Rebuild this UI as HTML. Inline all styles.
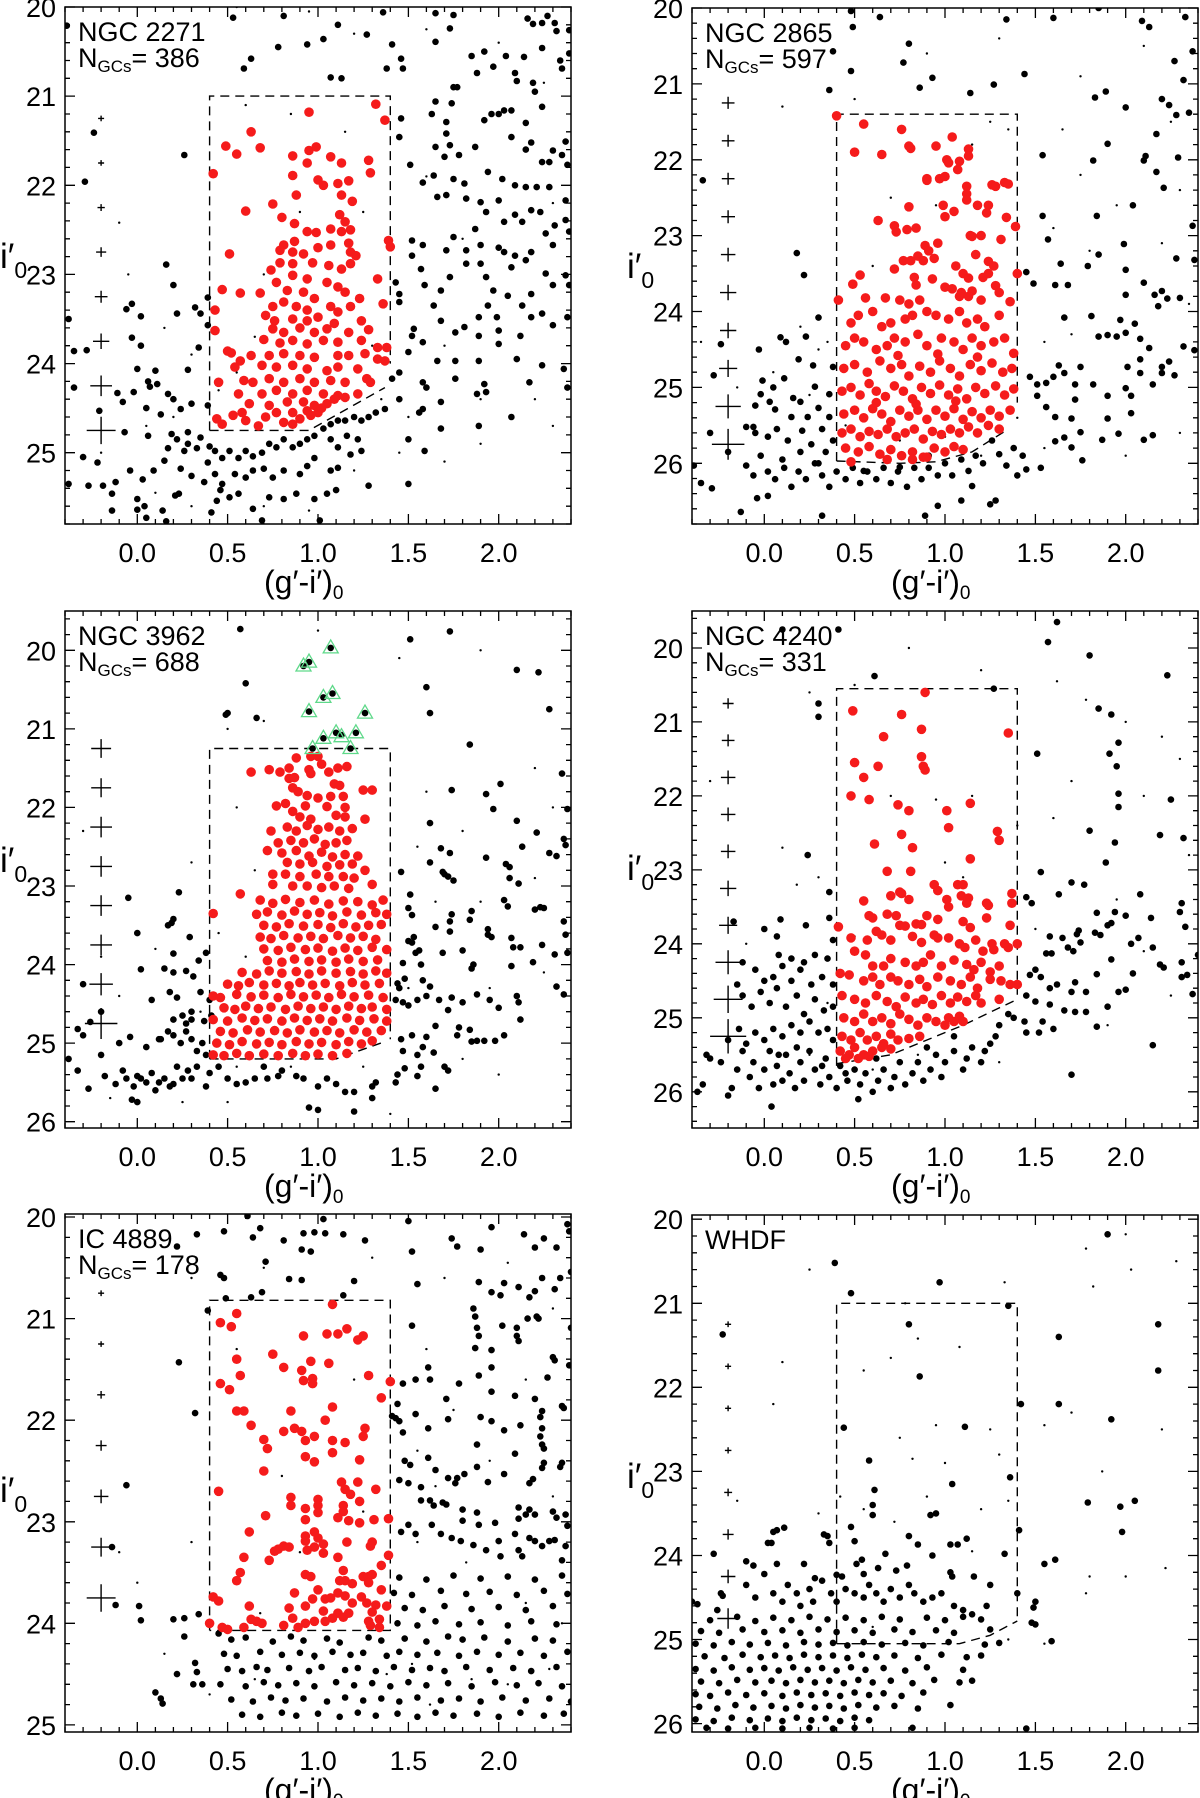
<!DOCTYPE html>
<html><head><meta charset="utf-8"><title>GC colour-magnitude diagrams</title>
<style>
html,body{margin:0;padding:0;background:#fff;}
svg{display:block;}
text{font-family:"Liberation Sans",Arial,sans-serif;fill:#000;}
</style></head>
<body>
<svg id="fig" xmlns="http://www.w3.org/2000/svg" width="1200" height="1798" viewBox="0 0 1200 1798"></svg>
<script>
// ---------- data (colour (g'-i')0, magnitude i'0 pairs) ----------
const xTicks = [0.0, 0.5, 1.0, 1.5, 2.0];
const xTickLabels = ["0.0", "0.5", "1.0", "1.5", "2.0"];

const names = ["NGC 2271", "NGC 2865", "NGC 3962", "NGC 4240", "IC 4889", "WHDF"];
const nGCs = ["386", "597", "688", "331", "178", ""];
const yTicks1 = [20, 21, 22, 23, 24, 25];
const yTicks2 = [20, 21, 22, 23, 24, 25, 26];
const yTicks3 = [20, 21, 22, 23, 24, 25, 26];
const yTicks4 = [20, 21, 22, 23, 24, 25, 26];
const yTicks5 = [20, 21, 22, 23, 24, 25];
const yTicks6 = [20, 21, 22, 23, 24, 25, 26];

const red1 = [1.32,21.09,1.37,21.27,0.95,21.18,0.63,21.4,0.49,21.56,0.55,21.65,0.68,21.58,0.42,21.87,0.86,21.67,0.95,21.61,0.99,21.57,0.94,21.75,1.07,21.68,1.13,21.75,1.28,21.72,1.29,21.86,0.86,21.89,0.88,22.11,1.0,21.94,1.03,22.0,1.11,21.98,1.17,21.95,1.13,22.11,1.19,22.18,0.6,22.29,0.75,22.21,0.8,22.36,0.87,22.43,0.94,22.52,0.99,22.53,1.07,22.49,1.12,22.33,1.15,22.41,1.18,22.5,1.13,22.52,1.39,22.62,1.4,22.69,0.81,22.67,0.87,22.63,0.79,22.73,0.86,22.75,0.92,22.77,1.0,22.7,1.07,22.67,1.17,22.65,1.18,22.75,1.21,22.79,0.51,22.77,0.79,22.87,0.86,22.88,0.97,22.87,1.06,22.9,1.13,22.94,1.18,22.88,0.74,22.95,0.86,23.01,0.94,23.05,0.77,23.09,1.05,23.09,1.11,23.14,1.33,23.05,0.47,23.17,0.57,23.21,0.68,23.21,0.83,23.18,0.92,23.2,0.98,23.27,1.15,23.2,1.23,23.27,0.75,23.36,0.81,23.31,0.88,23.36,0.94,23.4,1.07,23.36,1.11,23.42,1.18,23.36,1.36,23.33,0.43,23.4,0.71,23.46,0.76,23.52,0.86,23.5,0.94,23.52,1.0,23.48,1.09,23.55,1.24,23.52,0.43,23.63,0.75,23.61,0.81,23.65,0.9,23.6,0.98,23.65,1.05,23.61,1.17,23.65,1.28,23.62,0.7,23.73,0.79,23.77,0.86,23.74,0.94,23.78,1.03,23.74,1.11,23.76,1.24,23.74,1.33,23.82,1.38,23.82,0.5,23.86,0.52,23.88,0.63,23.91,0.73,23.91,0.81,23.89,0.9,23.91,0.98,23.93,1.11,23.91,1.17,23.91,1.26,23.89,1.33,23.95,1.37,23.97,0.57,23.97,0.54,24.04,0.69,24.02,0.77,24.04,0.86,24.02,0.94,24.06,1.05,24.08,1.11,24.04,1.22,24.06,0.45,24.21,0.59,24.19,0.64,24.21,0.73,24.17,0.81,24.21,0.9,24.17,0.98,24.21,1.07,24.19,1.15,24.21,1.27,24.17,1.29,24.21,0.56,24.34,0.69,24.34,0.77,24.3,0.86,24.34,0.94,24.3,1.03,24.34,1.11,24.36,1.22,24.34,0.62,24.45,0.73,24.47,0.83,24.43,0.92,24.43,0.98,24.47,1.05,24.45,1.09,24.4,1.15,24.38,0.53,24.58,0.58,24.55,0.44,24.62,0.47,24.68,0.6,24.64,0.71,24.6,0.77,24.55,0.86,24.55,0.94,24.53,1.0,24.55,0.81,24.66,0.67,24.7,0.86,24.68,0.9,24.62,1.02,24.5,0.96,24.58];
const black1 = [-0.39,20.21,0.53,20.12,0.81,20.1,0.78,20.45,0.59,20.69,0.63,20.58,0.94,20.42,1.03,20.36,1.11,20.2,1.07,20.79,1.13,20.8,1.27,20.31,1.36,20.06,1.38,20.69,1.41,20.42,1.46,20.58,1.47,20.69,1.65,20.07,1.65,20.39,1.73,20.24,1.75,20.09,1.85,20.55,1.88,20.74,1.92,20.5,1.97,20.67,2.04,20.55,2.09,20.74,2.14,20.56,2.16,20.13,2.19,20.19,2.24,20.18,2.27,20.1,2.31,20.18,2.32,20.27,2.39,20.26,2.24,20.46,2.34,20.6,2.39,20.52,2.35,20.69,2.1,20.83,2.19,20.85,2.2,20.95,1.75,20.9,1.77,20.9,-0.24,21.41,0.26,21.66,-0.29,21.96,1.46,21.25,1.45,21.46,1.51,21.77,1.58,21.97,1.64,21.89,1.65,21.06,1.63,21.2,1.71,21.29,1.74,21.08,1.71,21.42,1.73,21.55,1.65,21.57,1.7,21.68,1.78,21.66,1.75,21.93,1.71,22.11,1.66,22.13,1.81,21.98,1.87,21.57,1.92,21.27,1.96,21.2,2.0,21.2,2.03,21.16,2.07,21.16,2.07,21.46,2.15,21.3,2.18,21.52,2.15,21.6,2.24,21.12,2.3,21.61,2.35,21.66,2.37,21.51,2.38,21.77,2.28,21.74,2.24,21.74,1.94,21.85,2.02,21.93,2.09,22.0,2.15,22.02,2.21,22.02,2.28,22.02,2.37,22.17,1.82,22.15,1.9,22.19,1.93,22.3,2.0,22.17,2.03,22.41,2.09,22.33,2.13,22.41,2.18,22.28,2.23,22.3,2.26,22.54,2.31,22.45,2.37,22.39,2.39,22.52,1.87,22.49,1.9,22.67,1.82,22.73,1.75,22.58,1.71,22.73,1.58,22.67,1.52,22.62,1.52,22.79,1.57,22.94,1.59,23.12,1.68,23.18,1.73,23.03,1.82,22.88,1.9,22.88,1.93,23.03,2.0,22.7,2.03,22.75,2.07,22.92,2.09,22.79,2.15,22.84,2.18,22.75,2.26,22.99,2.3,22.67,2.37,23.01,2.39,23.12,2.3,23.12,2.18,23.22,2.13,23.35,2.05,23.24,1.97,23.18,1.94,23.35,1.99,23.48,2.0,23.63,1.89,23.48,1.81,23.59,1.89,23.69,1.76,23.65,1.68,23.52,1.64,23.35,1.53,23.61,1.52,23.69,1.5,23.87,1.43,23.09,1.45,23.22,1.45,23.31,1.58,23.76,1.66,23.97,1.76,23.97,1.89,23.97,2.0,23.78,2.1,23.95,2.12,23.69,2.18,23.48,2.24,23.44,2.3,23.57,2.38,23.48,2.36,24.06,2.38,24.27,2.24,24.02,2.17,24.21,2.07,24.6,1.92,24.23,1.93,24.32,1.88,24.34,1.89,24.7,1.76,24.17,1.68,24.43,1.68,24.73,1.58,24.21,1.6,24.27,1.58,24.51,1.56,24.55,1.45,24.4,1.45,24.1,1.41,24.17,1.5,24.85,1.59,24.98,1.5,25.35,-0.06,23.39,-0.03,23.33,0.02,23.47,-0.03,23.71,0.02,23.8,0.2,23.12,0.22,23.44,0.16,22.89,0.28,24.07,0.32,23.37,0.34,23.82,0.35,23.44,0.39,23.57,0.39,23.26,-0.28,23.85,-0.35,23.86,-0.38,23.5,-0.35,24.27,0.0,24.06,0.06,24.2,0.1,24.08,0.07,24.26,0.11,24.23,0.17,24.34,0.2,24.4,-0.11,24.33,-0.02,24.32,-0.08,24.43,-0.21,24.53,0.05,24.5,0.13,24.57,0.24,24.51,0.3,24.45,0.39,24.47,-0.07,24.77,0.06,24.81,0.19,24.79,0.28,24.77,0.35,24.83,0.22,24.85,0.28,24.9,0.17,24.95,0.26,24.98,0.33,24.95,0.4,24.93,0.43,24.98,0.39,25.11,0.47,25.06,0.51,24.98,0.56,25.06,0.6,24.98,0.64,25.04,0.69,25.0,0.73,24.9,0.77,24.94,0.81,24.85,0.86,24.94,0.9,24.9,0.94,24.85,0.98,24.81,1.03,24.73,1.07,24.68,1.11,24.64,1.15,24.64,1.2,24.6,1.24,24.64,1.28,24.6,1.32,24.55,1.37,24.51,1.07,24.85,1.11,24.94,1.16,24.81,1.22,24.85,1.24,24.98,1.18,25.02,1.11,25.17,1.07,25.2,0.98,25.06,0.94,25.15,0.9,25.24,0.81,25.2,0.75,25.28,0.7,25.18,0.64,25.2,0.6,25.28,0.54,25.24,0.47,25.35,0.43,25.24,0.37,25.33,0.3,25.26,0.24,25.18,0.15,25.09,0.09,25.2,0.03,25.3,-0.04,25.2,-0.12,25.33,-0.14,25.46,-0.22,25.11,-0.27,25.37,-0.3,25.05,-0.38,25.35,-0.19,25.37,0.0,25.52,0.04,25.6,0.0,25.64,-0.14,25.65,0.14,25.65,0.21,25.48,0.23,25.46,0.41,25.67,0.44,25.54,0.46,25.42,0.51,25.5,0.56,25.46,0.64,25.63,0.69,25.76,0.73,25.5,0.81,25.52,0.88,25.46,0.98,25.52,1.01,25.76,1.05,25.46,1.1,25.42,1.28,25.37,0.05,25.73,0.16,25.77];
const small1 = [0.55,20.0,0.95,20.05,1.2,20.3,1.6,20.25,2.0,20.4,2.25,20.85,-0.1,22.42,-0.05,23.0,0.15,23.6,0.3,23.9,0.6,21.1,0.85,21.2,1.15,21.4,1.6,21.9,1.8,22.6,2.3,22.2,1.7,23.8,1.9,24.4,2.2,24.4,2.3,24.7,0.05,24.7,0.2,24.6,0.45,24.3,0.55,24.1,0.65,23.7,0.7,23.0,0.9,22.3,1.25,22.3,1.3,23.8,1.35,24.4,1.5,24.6,1.7,25.1,1.9,24.9,0.3,25.6,0.7,25.6,0.95,25.65,1.2,25.2,1.45,25.0,-0.2,25.0,0.1,25.45];
const err1 = [21.25,21.75,22.25,22.75,23.25,23.75,24.25,24.75];
const errSize1 = [0.012,0.015,0.02,0.028,0.035,0.045,0.06,0.08];

const red2 = [0.4,21.42,0.55,21.53,0.5,21.9,0.65,21.93,0.76,21.6,0.8,21.82,0.81,21.85,0.95,21.82,1.04,21.7,1.13,21.86,1.01,22.0,1.02,22.04,1.08,22.02,1.13,21.95,1.07,22.13,0.9,22.25,0.9,22.27,0.97,22.25,1.0,22.22,1.12,22.35,1.12,22.45,1.26,22.33,1.28,22.35,1.33,22.3,1.35,22.32,1.12,22.53,1.18,22.6,1.24,22.6,0.99,22.6,1.0,22.75,0.8,22.62,1.05,22.68,1.23,22.7,0.63,22.8,0.72,22.87,0.73,22.95,0.79,22.92,0.84,22.9,1.14,23.0,1.15,23.01,1.2,23.0,1.31,23.05,1.34,22.76,1.39,22.88,0.96,23.1,0.89,23.13,0.91,23.2,0.85,23.27,0.94,23.3,1.17,23.25,0.77,23.33,0.81,23.33,0.88,23.33,1.06,23.4,1.24,23.34,1.27,23.4,0.72,23.44,0.53,23.52,0.49,23.64,0.83,23.55,0.93,23.57,1.1,23.5,1.13,23.56,1.21,23.55,1.24,23.5,1.4,23.5,0.84,23.65,1.0,23.68,1.04,23.7,1.09,23.75,1.15,23.73,1.28,23.66,1.3,23.75,0.41,23.85,0.56,23.82,0.67,23.82,0.75,23.85,0.8,23.9,0.86,23.85,1.08,23.8,1.13,23.8,1.2,23.85,1.36,23.87,0.48,24.15,0.52,24.05,0.6,24.0,0.65,24.2,0.7,24.15,0.78,24.1,0.82,24.05,0.9,24.0,0.95,24.05,1.02,24.1,1.08,24.0,1.12,24.15,1.18,24.1,1.22,24.2,1.3,24.05,0.45,24.45,0.5,24.35,0.55,24.4,0.62,24.5,0.68,24.45,0.72,24.35,0.78,24.4,0.85,24.3,0.9,24.45,0.98,24.35,1.05,24.4,1.1,24.5,1.15,24.35,1.2,24.45,1.27,24.4,1.33,24.35,1.38,24.55,0.44,24.75,0.5,24.7,0.57,24.8,0.64,24.65,0.7,24.75,0.76,24.7,0.8,24.85,0.86,24.72,0.92,24.8,0.97,24.65,1.03,24.75,1.08,24.85,1.14,24.7,1.2,24.78,1.26,24.68,1.32,24.8,1.37,24.75,0.43,25.05,0.48,25.0,0.53,25.1,0.58,24.95,0.62,25.05,0.67,25.12,0.72,24.98,0.77,25.05,0.82,25.15,0.87,25.0,0.92,25.08,0.97,24.97,1.02,25.1,1.07,25.02,1.12,25.15,1.17,25.0,1.22,25.08,1.28,24.98,1.33,25.1,1.38,25.02,0.44,25.35,0.5,25.3,0.55,25.4,0.6,25.28,0.65,25.35,0.7,25.45,0.75,25.3,0.8,25.38,0.85,25.3,0.9,25.42,0.95,25.3,1.0,25.38,1.05,25.28,1.1,25.42,1.15,25.32,1.2,25.4,1.25,25.3,1.3,25.38,1.36,25.3,0.43,25.6,0.48,25.55,0.53,25.65,0.58,25.58,0.63,25.62,0.68,25.55,0.73,25.65,0.78,25.6,0.83,25.55,0.88,25.68,0.93,25.58,0.98,25.62,1.03,25.55,1.08,25.6,1.13,25.52,1.18,25.6,1.24,25.5,1.3,25.55,0.45,25.8,0.52,25.85,0.58,25.78,0.64,25.88,0.7,25.82,0.76,25.9,0.82,25.85,0.88,25.92,0.94,25.8,1.0,25.85,1.05,25.78,1.1,25.82,0.48,25.98,0.68,25.95,0.82,25.95,0.9,25.92,0.62,25.2,0.84,25.22,1.06,25.18,0.74,24.58,0.96,24.56,1.18,24.6];
const black2 = [0.48,20.04,0.49,20.25,0.64,20.12,0.8,20.47,0.77,20.72,0.48,20.83,0.38,20.57,0.36,21.08,0.86,21.05,0.93,20.92,1.14,21.12,1.27,21.01,1.34,20.15,1.44,20.87,1.6,20.13,1.85,20.0,2.09,20.17,2.13,20.25,2.33,20.12,2.37,20.57,2.27,20.7,2.32,20.95,2.35,21.38,2.28,21.41,2.24,21.28,2.2,21.2,2.0,21.31,1.89,21.1,1.83,21.18,1.9,21.79,2.17,21.66,2.1,22.01,2.17,22.16,2.21,22.37,2.11,21.95,2.29,21.97,1.82,22.01,1.54,21.94,2.04,22.6,1.54,22.74,1.57,23.05,1.84,22.74,1.85,23.25,1.99,23.11,1.79,23.4,2.0,23.45,2.0,23.78,2.1,23.62,2.16,23.78,2.2,23.73,2.28,23.3,2.38,23.32,2.23,23.83,2.3,23.82,2.18,23.93,2.37,22.87,1.45,23.48,1.49,23.63,1.61,23.65,1.68,23.65,1.64,23.37,1.66,24.08,1.81,24.06,1.97,24.11,2.05,24.16,2.0,24.28,1.85,24.33,1.9,24.31,1.95,24.33,2.08,24.36,2.13,24.48,2.01,24.73,2.08,24.63,2.2,24.73,2.24,24.66,2.32,24.46,2.38,24.51,2.27,24.84,2.2,24.81,2.15,24.96,2.08,24.81,2.0,25.01,2.03,25.11,1.9,25.11,1.82,24.96,1.72,24.96,1.72,25.16,1.75,24.73,1.66,24.81,1.63,24.71,1.6,24.86,1.56,24.94,1.51,24.96,1.47,24.86,1.51,25.11,1.56,25.26,1.61,25.39,1.7,25.41,1.75,25.59,1.66,25.66,1.61,25.71,1.7,25.79,1.76,25.96,1.9,25.41,1.96,25.61,1.87,25.69,2.15,25.63,2.1,25.69,2.03,25.34,1.53,26.06,1.45,26.08,1.4,26.16,1.43,25.9,1.38,25.8,1.34,26.03,1.3,25.88,1.26,25.7,1.21,26.0,1.17,25.9,1.13,26.1,1.09,25.95,1.04,26.16,1.0,26.0,0.96,26.16,0.91,26.06,0.87,26.21,0.83,26.06,0.79,26.31,0.74,26.11,0.7,26.26,0.66,26.06,0.62,26.21,0.57,26.11,0.53,26.26,0.49,26.06,0.45,26.21,0.4,26.11,0.36,26.31,0.32,26.16,0.28,26.0,0.23,26.21,0.19,26.11,0.15,26.31,0.11,26.06,0.06,26.21,0.02,26.11,-0.02,25.9,-0.06,26.16,-0.1,26.03,-0.04,26.46,0.02,26.43,0.32,26.69,0.89,26.69,0.96,26.56,1.09,26.49,1.25,26.54,1.28,26.49,-0.35,26.26,-0.29,26.33,-0.13,26.64,-0.39,26.03,-0.28,24.84,-0.24,24.43,-0.34,22.27,0.18,23.23,0.22,23.52,0.3,24.08,0.23,24.33,0.09,24.34,-0.03,24.5,-0.01,24.91,-0.02,25.09,-0.05,25.24,-0.1,25.52,-0.06,25.52,-0.05,25.6,0.02,25.65,0.06,25.29,0.07,25.55,0.13,25.7,0.15,25.39,0.16,25.14,0.2,25.19,0.21,25.57,0.24,25.39,0.26,25.75,0.28,24.99,0.3,25.27,0.32,25.55,0.34,25.85,0.36,25.39,0.36,25.09,0.38,25.7,0.38,24.73,0.27,24.71,0.19,24.63,0.11,24.88,0.03,25.19,0.91,25.9,0.1,25.95,0.2,25.85,0.3,26.0,0.55,26.1,0.75,26.05,1.15,26.3,-0.2,25.85,-0.3,25.6,0.05,25.0,0.12,24.4];
const small2 = [0.1,21.3,0.5,21.2,0.9,20.6,1.3,20.4,1.75,20.9,2.1,20.5,2.25,21.5,1.65,21.6,1.75,22.2,1.95,22.6,2.3,22.4,1.6,22.9,1.8,23.2,2.2,23.1,2.35,23.9,1.55,24.4,1.7,24.3,0.2,24.2,0.3,24.5,0.05,24.8,-0.15,25.0,0.25,25.1,0.35,24.4,0.6,23.4,0.7,22.5,0.95,22.6,1.15,21.8,1.25,21.5,1.35,21.6,0.45,25.5,0.75,25.7,1.0,25.65,1.2,25.9,1.4,25.4,1.55,25.8,2.0,25.9,2.3,25.6,-0.35,24.4];
const err2 = [21.25,21.75,22.25,22.75,23.25,23.75,24.25,24.75,25.25,25.75];
const errSize2 = [0.035,0.035,0.035,0.038,0.04,0.045,0.045,0.05,0.07,0.09];

const red3 = [0.88,21.37,0.96,21.35,1.0,21.35,1.02,21.45,1.11,21.5,1.16,21.48,0.95,21.52,0.84,21.5,0.79,21.55,0.73,21.52,0.63,21.55,0.84,21.63,0.87,21.62,0.96,21.57,1.06,21.55,1.09,21.7,1.12,21.72,1.25,21.78,1.3,21.78,0.86,21.75,0.89,21.8,0.94,21.85,1.0,21.88,1.07,21.86,1.14,21.86,0.82,21.95,0.77,21.98,0.93,21.98,1.05,21.99,1.15,22.0,0.86,22.05,0.9,22.12,0.96,22.15,1.1,22.1,1.15,22.12,1.26,22.15,0.83,22.25,0.88,22.3,0.94,22.23,1.0,22.28,1.06,22.25,1.12,22.3,1.19,22.27,0.74,22.3,0.78,22.45,0.85,22.42,0.92,22.45,0.98,22.4,1.04,22.47,1.1,22.45,1.16,22.42,0.72,22.55,0.8,22.58,0.88,22.55,0.95,22.62,1.02,22.57,1.08,22.63,1.15,22.6,1.22,22.62,1.26,22.8,0.83,22.7,0.9,22.72,0.97,22.7,1.05,22.75,1.12,22.73,1.19,22.72,0.75,22.85,0.82,22.85,0.9,22.88,0.99,22.85,1.06,22.88,1.14,22.88,1.2,22.9,1.3,22.98,0.75,22.98,0.86,23.0,0.94,23.0,1.02,23.02,1.09,23.0,1.17,23.03,0.57,23.1,0.68,23.18,0.75,23.22,0.82,23.17,0.9,23.21,0.98,23.18,1.06,23.23,1.14,23.19,1.22,23.2,1.3,23.24,1.36,23.18,0.42,23.35,0.66,23.36,0.72,23.33,0.8,23.37,0.87,23.32,0.94,23.36,1.01,23.34,1.08,23.38,1.16,23.33,1.24,23.37,1.32,23.34,1.38,23.36,0.7,23.5,0.77,23.52,0.84,23.48,0.92,23.51,1.0,23.49,1.07,23.53,1.14,23.48,1.21,23.52,1.28,23.5,1.35,23.49,0.68,23.65,0.74,23.67,0.81,23.63,0.89,23.66,0.96,23.64,1.03,23.67,1.11,23.63,1.18,23.66,1.25,23.64,1.32,23.68,0.7,23.8,0.78,23.82,0.85,23.78,0.93,23.81,1.0,23.79,1.08,23.83,1.15,23.79,1.22,23.82,1.3,23.78,1.38,23.81,0.72,23.95,0.8,23.97,0.87,23.93,0.95,23.96,1.02,23.94,1.1,23.97,1.17,23.93,1.25,23.96,1.33,23.94,0.58,24.1,0.66,24.12,0.73,24.08,0.8,24.11,0.88,24.09,0.95,24.12,1.02,24.08,1.1,24.11,1.18,24.09,1.25,24.12,1.32,24.08,1.38,24.11,0.5,24.25,0.56,24.27,0.62,24.23,0.7,24.26,0.77,24.24,0.84,24.27,0.9,24.23,0.97,24.26,1.04,24.24,1.12,24.27,1.19,24.23,1.26,24.26,1.34,24.24,0.42,24.4,0.46,24.42,0.55,24.38,0.63,24.41,0.7,24.39,0.78,24.42,0.85,24.38,0.92,24.41,0.99,24.39,1.06,24.42,1.13,24.38,1.2,24.41,1.28,24.39,1.36,24.42,0.48,24.55,0.54,24.57,0.6,24.53,0.67,24.56,0.74,24.54,0.82,24.57,0.89,24.53,0.96,24.56,1.03,24.54,1.1,24.57,1.17,24.53,1.24,24.56,1.3,24.54,1.38,24.57,0.42,24.7,0.5,24.72,0.58,24.68,0.65,24.71,0.72,24.69,0.8,24.72,0.87,24.68,0.94,24.71,1.01,24.69,1.08,24.72,1.16,24.68,1.23,24.71,1.31,24.69,1.38,24.72,0.46,24.85,0.53,24.87,0.61,24.83,0.68,24.86,0.76,24.84,0.83,24.87,0.9,24.83,0.98,24.86,1.05,24.84,1.12,24.87,1.2,24.83,1.27,24.86,1.35,24.84,0.44,25.0,0.51,25.02,0.58,24.98,0.66,25.01,0.73,24.99,0.8,25.02,0.88,24.98,0.95,25.01,1.02,24.99,1.1,25.02,1.17,24.98,1.24,25.01,1.3,24.97,0.42,25.15,0.48,25.16,0.55,25.13,0.62,25.16,0.7,25.14,0.78,25.16,0.86,25.13,0.93,25.16,1.0,25.14,1.08,25.16,1.16,25.13];
const black3 = [0.57,19.73,0.6,20.42,0.5,20.8,0.49,20.82,0.66,20.86,0.92,20.2,0.95,20.15,1.07,19.97,1.03,20.6,1.08,20.55,0.95,20.78,1.26,20.8,1.03,21.12,1.1,21.05,1.21,21.05,0.97,21.25,1.18,21.25,1.13,21.08,1.51,19.86,1.73,19.76,1.6,20.47,1.62,20.8,2.1,20.25,2.22,20.28,2.28,20.75,1.84,21.2,2.35,21.57,2.01,21.7,1.93,21.83,1.74,21.78,1.97,22.02,2.1,22.17,2.38,22.02,2.21,22.32,2.36,22.4,2.37,22.48,2.13,22.5,1.62,22.2,1.68,22.52,1.73,22.58,1.62,22.7,1.93,22.64,2.28,22.58,2.32,22.62,1.69,22.82,1.7,22.85,1.72,22.88,1.75,22.93,2.04,22.72,2.06,22.76,2.06,22.9,2.11,22.97,1.46,22.82,1.51,23.11,1.5,23.28,1.52,23.37,1.74,23.36,1.73,23.45,1.73,23.58,1.65,23.52,1.85,23.32,1.84,23.43,2.03,23.18,2.05,23.26,2.2,23.3,2.23,23.27,2.25,23.28,2.36,23.45,2.37,23.62,2.38,23.85,1.94,23.55,1.94,23.62,1.96,23.65,2.07,23.66,2.08,23.78,2.12,23.78,2.24,23.75,2.31,23.87,2.19,23.97,2.07,24.02,2.32,24.28,2.36,24.38,1.86,24.0,1.85,24.05,1.8,23.82,1.69,23.85,1.53,23.65,1.52,23.72,1.56,23.82,1.54,23.85,1.5,23.7,1.57,24.0,1.58,24.2,1.62,24.28,1.47,23.98,1.48,24.18,1.44,24.24,1.45,24.3,1.43,24.45,1.47,24.48,1.5,24.52,1.55,24.45,1.6,24.4,1.67,24.45,1.74,24.42,1.72,24.58,1.8,24.48,1.88,24.38,1.95,24.45,2.0,24.55,2.11,24.48,2.12,24.7,2.1,24.4,1.78,24.8,1.77,24.9,1.84,24.83,1.85,24.98,1.88,24.97,1.92,24.97,1.98,24.97,2.03,24.9,1.65,24.78,1.6,24.92,1.58,25.05,1.52,24.9,1.46,24.95,1.47,25.1,1.55,25.15,1.64,25.12,1.7,25.3,1.72,25.35,1.57,25.3,1.55,25.42,1.65,25.58,1.48,25.32,1.44,25.4,1.43,25.5,1.32,25.5,1.3,25.55,1.3,25.7,1.2,25.62,1.2,25.87,1.15,25.62,1.1,25.52,1.05,25.45,1.0,25.55,1.0,25.85,0.95,25.82,0.92,25.45,0.88,25.42,0.8,25.35,0.78,25.42,0.72,25.45,0.7,25.3,0.65,25.45,0.6,25.5,0.55,25.52,0.5,25.45,0.45,25.3,0.4,25.38,0.38,25.55,0.33,25.3,0.3,25.45,0.28,25.35,0.25,25.45,0.22,25.3,0.2,25.52,0.18,25.55,0.15,25.45,0.12,25.5,0.1,25.6,0.08,25.38,0.05,25.5,0.02,25.45,0.0,25.42,-0.02,25.55,-0.03,25.72,0.0,25.75,-0.06,25.45,-0.08,25.35,-0.12,25.52,-0.18,25.42,-0.27,25.58,-0.33,25.35,-0.38,25.2,-0.3,24.9,-0.2,25.15,-0.1,25.0,-0.04,24.92,0.05,25.05,0.12,24.95,0.2,24.9,0.24,25.0,0.27,24.85,0.3,24.95,0.33,25.1,0.36,25.0,0.38,25.15,0.3,24.7,0.27,24.75,0.25,24.65,0.2,24.7,0.17,24.85,0.13,24.95,0.08,24.45,0.18,24.35,0.22,24.42,0.3,24.6,0.35,24.35,0.4,24.45,0.41,24.65,0.37,24.72,0.27,24.08,0.31,24.15,0.2,24.1,0.15,24.05,0.34,23.95,0.38,23.85,0.29,23.65,0.2,23.42,0.19,23.47,0.17,23.5,0.02,24.06,-0.05,23.15,0.0,23.6,0.23,23.08,0.2,23.86,-0.3,24.25,-0.33,24.82,-0.26,24.73,-0.2,24.6];
const small3 = [0.5,21.0,0.7,20.9,1.0,19.75,1.45,20.1,1.9,20.0,2.2,21.5,2.3,22.0,1.6,21.8,1.55,22.5,1.8,22.3,1.9,23.2,2.2,22.9,0.3,22.7,0.55,22.0,0.65,22.8,0.45,23.6,0.6,23.9,-0.3,22.3,-0.2,23.9,-0.1,24.4,0.1,23.8,0.35,24.6,0.55,25.3,0.85,25.3,1.25,25.3,1.5,24.3,1.65,23.2,1.95,24.3,2.25,24.1,1.8,25.2,2.0,25.4,-0.15,25.7,0.25,25.75,0.5,25.75,1.4,25.9];
const err3 = [21.25,21.75,22.25,22.75,23.25,23.75,24.25,24.75];
const errSize3 = [0.055,0.055,0.06,0.06,0.06,0.06,0.065,0.09];
const tri3 = [0.92,20.2,0.95,20.15,1.07,19.97,1.03,20.6,1.08,20.55,0.95,20.78,1.26,20.8,1.03,21.12,1.1,21.05,1.13,21.1,1.21,21.05,0.97,21.25,1.18,21.25];

const red4 = [0.89,20.6,0.49,20.85,0.76,20.9,0.87,21.1,0.66,21.2,1.35,21.15,0.5,21.55,0.87,21.47,0.88,21.6,0.89,21.65,0.63,21.6,0.55,21.75,0.48,22.0,0.58,22.05,0.74,22.12,0.8,22.2,1.01,22.2,1.14,22.1,1.02,22.43,0.76,22.52,0.61,22.65,0.82,22.7,1.29,22.48,1.3,22.6,1.14,22.85,0.68,23.02,0.81,23.02,0.75,23.3,0.76,23.32,0.7,23.35,0.94,23.2,0.96,23.28,1.07,23.2,1.1,23.2,1.09,23.35,1.13,23.38,1.01,23.4,1.02,23.5,0.8,23.4,0.55,23.42,1.12,23.45,1.23,23.45,1.24,23.48,1.37,23.32,1.37,23.45,0.58,23.62,0.6,23.65,0.68,23.6,0.73,23.62,0.75,23.75,0.78,23.76,0.84,23.73,0.87,23.74,0.9,23.62,0.96,23.67,1.1,23.7,1.14,23.78,1.23,23.65,1.36,23.75,0.41,23.77,0.48,23.92,0.57,23.95,0.62,23.83,0.65,23.88,0.7,23.95,0.82,23.9,0.87,23.98,0.94,23.88,0.96,23.92,1.02,23.92,1.08,24.0,1.11,24.05,1.17,23.95,1.21,24.1,1.26,24.0,1.27,24.08,1.33,24.0,1.35,24.05,1.4,24.0,0.5,24.1,0.56,24.15,0.6,24.3,0.66,24.3,0.7,24.2,0.78,24.25,0.84,24.3,0.88,24.25,0.92,24.15,0.98,24.3,1.05,24.22,1.12,24.28,1.16,24.35,1.2,24.25,1.25,24.38,1.3,24.3,0.42,24.4,0.47,24.42,0.55,24.5,0.6,24.45,0.64,24.55,0.7,24.45,0.74,24.5,0.8,24.55,0.86,24.48,0.9,24.58,0.96,24.45,1.03,24.5,1.09,24.55,1.14,24.45,1.18,24.6,1.25,24.48,1.31,24.5,1.36,24.55,1.4,24.55,0.43,24.7,0.5,24.75,0.56,24.8,0.62,24.7,0.68,24.78,0.73,24.85,0.78,24.72,0.84,24.8,0.88,24.75,0.93,24.82,0.98,24.7,1.03,24.8,1.07,24.72,1.12,24.78,1.17,24.7,1.2,24.8,1.3,24.75,0.44,25.0,0.5,25.05,0.55,24.95,0.6,25.05,0.65,25.0,0.7,25.08,0.75,24.95,0.8,25.02,0.85,25.1,0.9,25.0,0.95,25.05,1.0,25.1,1.02,25.0,1.05,25.05,1.08,24.98,1.1,25.05,0.43,25.25,0.48,25.3,0.53,25.2,0.57,25.3,0.62,25.25,0.66,25.35,0.7,25.22,0.74,25.3,0.8,25.28,0.86,25.25,0.42,25.45,0.47,25.5,0.5,25.4,0.55,25.5,0.6,25.45,0.65,25.4,0.7,25.42,0.45,25.55,0.52,25.55,0.58,25.52];
const black4 = [0.41,19.75,0.1,19.75,0.3,20.75,0.3,20.93,0.61,20.38,1.27,20.55,1.57,19.92,1.62,19.65,1.8,20.1,2.23,20.37,1.85,20.82,1.92,20.9,1.96,21.28,1.91,21.43,1.95,21.6,1.96,21.97,1.96,22.15,1.51,21.43,2.25,22.05,2.19,22.53,2.32,22.57,1.8,22.47,1.94,22.63,1.89,22.9,1.53,23.03,1.7,23.17,1.77,23.2,1.63,23.33,1.45,23.37,1.48,23.45,2.08,23.33,2.31,23.45,2.33,23.77,1.84,23.58,1.94,23.57,2.0,23.62,2.3,23.57,1.9,23.75,1.92,23.72,1.74,23.82,1.58,23.9,1.65,23.92,1.68,24.05,1.71,24.1,1.75,23.98,1.73,23.87,1.83,23.85,1.86,23.88,2.07,23.92,2.03,24.0,2.14,23.65,2.15,24.05,1.56,24.13,1.59,24.13,1.5,24.35,1.47,24.42,1.53,24.45,1.58,24.6,1.62,24.55,1.72,24.52,1.7,24.65,1.78,24.65,1.84,24.41,1.92,24.21,1.96,24.65,2.0,24.62,2.04,24.4,2.19,24.28,2.21,24.32,2.31,24.25,2.31,24.45,2.34,24.42,2.37,24.68,2.4,24.15,1.45,24.7,1.5,24.78,1.58,24.82,1.66,24.9,1.72,24.92,1.78,24.92,1.9,24.85,1.54,25.05,1.52,25.2,1.6,25.15,1.84,25.12,2.15,25.37,1.7,25.77,1.44,25.05,1.45,25.2,1.38,25.0,1.35,24.95,1.3,25.1,1.28,25.25,1.25,25.35,1.22,25.45,1.2,25.6,1.15,25.4,1.12,25.55,1.1,25.7,1.05,25.45,1.0,25.6,0.98,25.8,0.95,25.5,0.92,25.7,0.88,25.85,0.85,25.6,0.82,25.75,0.78,25.9,0.75,25.6,0.72,25.8,0.7,25.95,0.66,25.7,0.63,25.85,0.6,26.0,0.56,25.75,0.53,25.9,0.52,26.1,0.5,25.7,0.46,25.85,0.42,25.65,0.4,25.95,0.36,25.8,0.34,25.55,0.31,25.9,0.28,25.7,0.25,25.45,0.22,25.85,0.2,25.6,0.17,25.95,0.14,25.75,0.12,25.5,0.1,25.85,0.07,25.65,0.05,25.9,0.03,25.45,0.0,25.7,-0.03,25.95,-0.06,25.6,-0.08,25.8,-0.12,25.45,-0.15,25.7,-0.18,25.95,-0.2,26.05,-0.24,25.6,-0.3,25.55,-0.34,25.9,-0.37,26.0,-0.32,25.5,0.04,26.2,0.38,25.3,0.35,25.15,0.3,25.2,0.25,25.05,0.2,25.2,0.15,25.1,0.1,25.25,0.05,25.15,0.0,25.3,-0.05,25.2,-0.1,25.35,-0.14,25.15,-0.2,25.3,0.38,24.85,0.33,24.9,0.28,24.75,0.22,24.95,0.18,24.7,0.12,24.85,0.07,24.6,0.03,24.8,-0.02,24.65,-0.07,24.85,-0.12,24.7,-0.15,24.55,0.38,24.55,0.32,24.45,0.26,24.55,0.2,24.35,0.15,24.5,0.1,24.3,0.05,24.45,0.0,24.5,-0.05,24.35,-0.12,24.25,0.35,24.2,0.28,24.15,0.22,24.25,0.15,24.2,0.08,24.15,0.38,23.95,0.36,23.65,0.07,23.9,0.0,23.8,0.23,23.75,0.24,22.8,0.09,23.67,-0.17,23.7,0.36,23.3,0.18,25.4,0.32,25.65,0.08,25.5,0.45,25.75,0.62,25.55,0.9,25.4,1.05,25.25];
const small4 = [0.25,20.6,0.5,20.5,0.8,20.0,1.2,20.3,1.62,20.45,1.78,20.7,2.0,21.0,2.3,21.5,2.2,21.2,1.7,21.8,1.6,22.3,2.1,22.0,2.35,22.8,1.4,22.4,0.7,22.0,0.95,22.05,1.15,22.0,0.1,22.7,-0.3,21.8,0.18,23.2,0.3,23.1,0.5,23.9,-0.1,24.0,0.35,24.8,1.1,23.1,1.25,23.5,1.0,22.9,1.5,23.8,1.95,23.4,2.1,24.1,2.25,24.7,1.9,25.1,1.3,25.6,0.25,25.5,0.6,25.7,0.85,25.5];
const err4 = [20.75,21.25,21.75,22.25,22.75,23.25,23.75,24.25,24.75,25.25];
const errSize4 = [0.03,0.035,0.04,0.04,0.04,0.045,0.05,0.07,0.08,0.1];

const red5 = [0.55,20.95,1.08,20.86,0.46,21.04,0.52,21.08,0.92,21.17,1.05,21.15,1.11,21.15,1.16,21.1,1.22,21.21,1.25,21.17,0.75,21.35,0.55,21.4,0.96,21.42,1.06,21.44,0.81,21.48,0.91,21.51,0.57,21.56,0.92,21.61,0.97,21.59,0.97,21.64,1.28,21.56,1.4,21.62,0.46,21.64,0.51,21.7,1.35,21.78,1.08,21.87,0.55,21.91,0.59,21.91,0.85,21.91,1.04,22.0,0.63,22.05,0.81,22.11,0.87,22.08,0.91,22.11,1.26,22.08,1.25,22.16,0.98,22.16,0.93,22.2,1.08,22.2,1.15,22.22,0.7,22.19,0.72,22.28,1.08,22.32,0.93,22.36,0.98,22.41,1.23,22.39,0.7,22.5,1.13,22.61,1.22,22.61,0.45,22.7,1.15,22.68,1.18,22.73,1.32,22.68,0.85,22.76,1.23,22.8,0.93,22.87,1.0,22.78,1.0,22.84,0.85,22.84,1.14,22.84,1.14,22.9,0.71,22.94,1.0,22.91,1.11,22.96,1.17,22.99,0.93,22.98,1.23,23.01,1.31,22.98,1.39,22.97,0.62,23.1,0.98,23.1,0.93,23.14,1.0,23.16,0.93,23.19,1.03,23.22,0.98,23.25,1.16,23.2,1.3,23.2,1.29,23.24,0.81,23.24,0.84,23.25,0.78,23.27,0.76,23.29,0.94,23.28,1.03,23.31,1.39,23.33,1.11,23.35,0.59,23.35,0.73,23.38,1.35,23.43,0.57,23.5,0.93,23.52,0.96,23.54,1.14,23.48,1.25,23.54,1.28,23.54,1.3,23.52,0.55,23.58,1.12,23.58,1.15,23.58,1.19,23.61,1.28,23.6,1.0,23.67,1.35,23.67,0.87,23.7,1.11,23.7,1.15,23.73,1.24,23.74,0.42,23.74,0.45,23.78,0.97,23.76,1.04,23.76,1.07,23.75,1.27,23.8,1.32,23.82,1.38,23.83,1.19,23.8,0.62,23.83,0.84,23.85,0.93,23.83,1.03,23.88,1.11,23.9,1.17,23.9,1.3,23.89,0.63,23.96,0.66,23.98,0.86,23.95,0.93,24.0,0.98,23.98,1.04,23.98,1.08,23.95,1.14,23.94,1.28,23.98,1.34,23.96,0.4,24.0,0.47,24.04,0.5,24.06,0.59,24.04,0.69,24.0,0.81,24.02,0.89,24.04,1.29,24.02,1.34,24.04];
const black5 = [0.48,20.14,0.61,19.99,0.64,20.2,0.68,20.11,0.71,20.44,0.81,20.23,0.91,20.32,0.92,20.16,0.96,20.34,0.98,20.15,1.03,20.02,1.04,20.16,1.14,20.17,1.26,20.23,0.33,20.17,0.22,20.29,0.46,20.57,0.48,20.6,0.84,20.61,0.91,20.62,1.2,20.63,1.14,20.77,0.63,20.79,0.69,20.74,0.49,20.8,0.39,20.92,1.5,20.04,1.52,20.34,1.55,20.66,1.74,20.21,1.77,20.29,1.9,20.32,1.96,20.1,2.14,20.17,2.2,20.3,2.25,20.21,2.32,20.3,2.38,20.07,2.39,20.14,2.4,20.54,2.34,20.6,2.31,20.71,2.24,20.6,2.2,20.73,2.17,20.79,2.11,20.69,2.03,20.65,2.01,20.77,1.96,20.74,1.89,20.64,1.86,20.9,1.87,20.98,1.88,21.09,1.89,21.17,1.87,21.29,1.96,21.31,1.89,21.56,1.96,21.48,2.02,21.07,2.1,21.09,2.1,21.17,2.11,21.22,2.16,21.0,2.21,20.98,2.22,21.0,2.3,21.38,2.31,21.41,2.4,21.09,2.39,21.46,1.47,21.64,1.54,21.6,1.62,21.6,1.61,21.48,1.52,21.07,1.78,21.64,1.71,21.79,1.96,21.72,2.09,21.76,2.2,21.79,2.27,21.58,1.44,21.84,1.41,21.96,1.43,21.98,1.45,22.01,1.47,22.12,1.54,21.94,1.61,22.08,1.72,21.99,1.9,21.97,1.96,22.01,2.03,22.1,2.12,22.05,2.24,21.91,2.23,21.97,2.24,22.08,2.23,22.16,2.24,22.24,2.25,22.28,2.35,21.86,2.36,21.88,1.88,22.24,2.09,22.33,1.61,22.37,1.51,22.44,1.48,22.4,1.65,22.49,1.72,22.57,1.77,22.57,1.81,22.53,1.76,22.62,1.88,22.46,1.94,22.61,2.03,22.53,2.17,22.62,2.19,22.58,2.24,22.47,2.25,22.42,2.34,22.46,2.35,22.42,1.45,22.59,1.5,22.62,1.57,22.66,1.57,22.79,1.62,22.79,1.64,22.84,1.69,22.81,1.71,22.83,1.8,22.88,1.8,22.99,1.88,22.91,1.89,23.03,1.98,23.01,2.11,22.86,2.11,22.97,2.15,22.93,2.17,22.88,2.2,22.93,2.3,22.9,2.32,22.96,2.37,22.93,2.38,23.04,1.46,23.1,1.5,23.03,1.54,23.12,1.63,23.03,1.68,23.12,1.74,23.16,1.79,23.19,1.86,23.23,1.93,23.28,2.0,23.19,2.01,23.34,2.09,23.12,2.11,23.28,2.13,23.34,2.17,23.16,2.2,23.19,2.24,23.24,2.28,23.19,2.31,23.18,2.37,23.24,2.35,23.38,0.23,21.43,0.32,21.93,-0.06,22.64,-0.14,23.25,-0.12,23.82,0.01,23.83,0.02,23.97,0.2,23.96,0.26,23.95,0.34,23.91,0.26,24.13,0.22,24.5,0.32,24.39,0.33,24.48,0.31,24.6,0.36,24.6,0.1,24.68,0.13,24.74,0.14,24.79,0.45,24.1,0.52,24.16,0.6,24.14,0.75,24.18,0.85,24.13,0.92,24.17,1.05,24.15,1.12,24.19,1.28,24.14,1.35,24.17,1.48,24.15,1.6,24.18,1.72,24.13,1.8,24.16,1.92,24.14,2.05,24.18,2.2,24.15,2.3,24.17,0.48,24.3,0.55,24.32,0.68,24.28,0.8,24.31,0.9,24.29,0.98,24.32,1.08,24.28,1.18,24.31,1.25,24.29,1.38,24.32,1.45,24.28,1.55,24.31,1.66,24.29,1.78,24.32,1.88,24.28,2.0,24.31,2.12,24.29,2.25,24.32,2.38,24.28,0.5,24.45,0.58,24.47,0.66,24.43,0.72,24.46,0.84,24.44,0.95,24.47,1.02,24.43,1.15,24.46,1.22,24.44,1.32,24.47,1.42,24.43,1.52,24.46,1.62,24.44,1.7,24.47,1.82,24.43,1.95,24.46,2.08,24.44,2.18,24.47,2.32,24.43,0.46,24.6,0.6,24.62,0.7,24.58,0.78,24.61,0.88,24.59,0.98,24.62,1.1,24.58,1.2,24.61,1.3,24.59,1.4,24.62,1.5,24.58,1.6,24.61,1.72,24.59,1.85,24.62,1.98,24.58,2.1,24.61,2.22,24.59,2.35,24.62,0.52,24.75,0.64,24.77,0.74,24.73,0.82,24.76,0.92,24.74,1.05,24.77,1.15,24.73,1.25,24.76,1.35,24.74,1.45,24.77,1.55,24.73,1.68,24.76,1.78,24.74,1.9,24.77,2.02,24.73,2.15,24.76,2.28,24.74,2.4,24.77,0.58,24.9,0.68,24.92,0.8,24.88,0.88,24.91,1.0,24.89,1.12,24.92,1.22,24.88,1.32,24.91,1.44,24.89,1.55,24.92,1.65,24.88,1.75,24.91,1.88,24.89,2.0,24.92,2.12,24.88,2.25,24.91,2.36,24.89,1.45,23.55,1.6,23.57,1.75,23.53,1.9,23.56,2.05,23.54,2.2,23.57,2.35,23.53,1.42,23.7,1.52,23.72,1.68,23.68,1.82,23.71,1.95,23.69,2.1,23.72,2.25,23.68,2.38,23.71,1.48,23.85,1.58,23.87,1.7,23.83,1.85,23.86,2.0,23.84,2.15,23.87,2.3,23.83,1.44,24.0,1.55,24.02,1.65,23.98,1.78,24.01,1.9,23.99,2.05,24.02,2.18,23.98,2.32,24.01];
const small5 = [0.3,20.6,0.7,20.5,1.3,20.4,1.7,20.6,2.05,20.45,2.3,20.9,1.6,21.3,1.75,21.9,2.15,21.6,1.55,22.3,1.65,22.65,1.95,22.4,2.3,22.75,0.55,21.3,0.8,22.55,1.2,21.6,1.25,22.9,0.9,23.3,0.68,23.9,0.3,23.2,-0.1,23.3,0.0,23.6,0.15,24.3,0.4,24.7,0.65,24.55,0.98,24.35,1.38,24.5,1.62,24.8,1.85,24.55,2.05,24.6,2.28,24.45,1.55,23.2,1.82,23.4,2.15,23.8,2.35,24.0,1.52,24.4];
const err5 = [20.75,21.25,21.75,22.25,22.75,23.25,23.75];
const errSize5 = [0.012,0.016,0.022,0.03,0.04,0.055,0.08];

const black6 = [1.9,20.18,0.39,20.52,0.48,20.88,0.97,20.75,1.35,21.03,0.8,21.25,2.18,21.25,-0.23,21.37,1.63,21.4,0.86,21.87,2.18,21.8,1.42,22.2,1.63,22.2,1.92,22.38,1.11,22.47,0.44,22.48,0.58,22.87,1.36,23.07,1.04,23.15,0.61,23.22,0.6,23.4,0.6,23.52,1.79,23.37,1.97,23.42,2.05,23.35,1.98,23.72,0.92,23.52,0.95,23.5,0.48,23.66,0.11,23.67,0.07,23.7,0.05,23.72,0.02,23.85,0.04,23.85,0.33,23.75,0.35,23.77,0.36,23.85,0.8,23.77,0.85,23.87,1.12,23.8,1.41,23.7,1.03,23.87,1.07,23.87,1.33,23.98,0.5,23.83,0.67,23.98,0.54,24.05,-0.28,23.98,-0.1,24.07,-0.06,24.12,0.07,24.1,0.22,24.1,0.4,24.23,0.43,24.25,0.51,24.1,0.55,24.22,0.63,24.15,0.73,24.18,0.79,24.12,1.03,24.2,1.04,24.25,1.16,24.25,1.55,24.1,1.61,24.05,0.93,24.0,0.28,24.27,-0.24,24.45,-0.23,24.48,-0.37,24.58,-0.4,24.55,-0.26,24.65,-0.1,24.35,0.0,24.22,-0.05,24.5,0.05,24.45,0.1,24.55,0.13,24.35,0.18,24.45,0.2,24.6,0.25,24.4,0.27,24.55,0.32,24.3,0.37,24.45,0.4,24.55,0.45,24.4,0.5,24.45,0.55,24.5,0.58,24.35,0.62,24.45,0.66,24.55,0.7,24.4,0.75,24.5,0.8,24.35,0.83,24.45,0.88,24.55,0.93,24.5,0.98,24.45,1.05,24.6,1.1,24.65,1.15,24.7,1.25,24.35,1.23,24.6,1.4,24.45,1.5,24.55,1.49,24.62,1.48,24.8,1.5,24.82,1.59,25.02,-0.3,24.77,-0.15,24.73,-0.05,24.78,0.05,24.74,0.15,24.77,0.25,24.73,0.35,24.76,0.45,24.74,0.55,24.77,0.65,24.73,0.75,24.76,0.9,24.74,1.0,24.77,1.1,24.73,1.2,24.76,-0.35,24.9,-0.25,24.92,-0.12,24.88,0.0,24.91,0.1,24.89,0.2,24.92,0.3,24.88,0.4,24.91,0.5,24.89,0.6,24.92,0.72,24.88,0.82,24.91,0.95,24.89,1.05,24.92,1.25,24.88,-0.38,25.05,-0.28,25.07,-0.18,25.03,-0.08,25.06,0.02,25.04,0.12,25.07,0.22,25.03,0.3,25.06,0.38,25.04,0.46,25.07,0.55,25.03,0.65,25.06,0.78,25.04,0.88,25.07,1.02,25.03,1.22,25.06,1.3,25.04,-0.33,25.2,-0.22,25.22,-0.12,25.18,-0.02,25.21,0.06,25.19,0.14,25.22,0.22,25.18,0.3,25.21,0.38,25.19,0.46,25.22,0.54,25.18,0.62,25.21,0.72,25.19,0.85,25.22,0.98,25.18,1.12,25.21,1.2,25.19,-0.38,25.35,-0.28,25.37,-0.18,25.33,-0.08,25.36,0.0,25.34,0.08,25.37,0.16,25.33,0.24,25.36,0.32,25.34,0.4,25.37,0.48,25.33,0.56,25.36,0.66,25.34,0.78,25.37,0.9,25.33,1.1,25.36,-0.35,25.5,-0.25,25.52,-0.15,25.48,-0.05,25.51,0.04,25.49,0.12,25.52,0.2,25.48,0.28,25.51,0.36,25.49,0.44,25.52,0.52,25.48,0.6,25.51,0.7,25.49,0.82,25.52,0.94,25.48,1.08,25.51,1.15,25.49,-0.38,25.65,-0.3,25.67,-0.2,25.63,-0.1,25.66,0.0,25.64,0.1,25.67,0.18,25.63,0.26,25.66,0.34,25.64,0.42,25.67,0.5,25.63,0.58,25.66,0.66,25.64,0.76,25.67,0.88,25.63,-0.36,25.8,-0.26,25.82,-0.16,25.78,-0.06,25.81,0.04,25.79,0.12,25.82,0.2,25.78,0.28,25.81,0.36,25.79,0.44,25.82,0.52,25.78,0.62,25.81,0.72,25.79,0.85,25.82,1.03,25.78,-0.38,25.95,-0.28,25.97,-0.18,25.93,-0.08,25.96,0.02,25.94,0.1,25.97,0.18,25.93,0.26,25.96,0.34,25.94,0.42,25.97,0.5,25.93,0.58,25.96,-0.32,26.05,-0.2,26.06,-0.05,26.05,0.1,26.06,0.25,26.05,0.38,26.06,0.5,26.05,0.82,26.05,1.45,26.06];
const small6 = [0.25,20.6,0.78,21.0,1.33,20.75,1.78,20.35,2.0,20.18,2.28,20.5,2.03,20.6,1.82,20.8,0.1,21.7,0.05,22.2,0.55,21.8,0.7,21.65,0.85,21.42,1.08,21.52,0.95,22.45,1.25,22.5,0.75,22.6,0.82,22.85,1.3,22.8,1.55,22.45,1.7,22.3,2.2,22.5,1.87,23.0,0.42,23.3,0.55,23.45,0.72,23.6,1.2,23.45,1.35,23.35,0.3,23.5,-0.15,23.35,1.8,24.25,2.0,24.25,2.22,24.15,1.78,24.45,0.9,23.3,1.0,22.9,1.15,23.95,0.6,24.85,1.35,25.0,1.55,25.05];
const err6 = [21.25,21.75,22.25,22.75,23.25,23.75,24.25,24.75];
const errSize6 = [0.012,0.012,0.015,0.018,0.022,0.03,0.04,0.06];

// selection box outlines (colour, magnitude vertices)
const box1 = [[0.4,24.75,0.4,21.0,1.4,21.0,1.4,24.0],[0.4,24.75,0.95,24.75,1.37,24.27]];
const box2 = [[0.4,25.97,0.4,21.4,1.4,21.4,1.4,25.2],[0.4,25.97,0.75,26.0,0.95,25.98,1.15,25.85,1.35,25.55]];
const box3 = [[0.4,25.2,0.4,21.25,1.4,21.25,1.4,24.95],[0.4,25.2,1.1,25.2,1.37,24.98]];
const box4 = [[0.4,25.65,0.4,20.55,1.4,20.55,1.4,24.75],[0.4,25.62,0.7,25.5,0.9,25.3,1.1,25.1,1.4,24.75]];
const box5 = [[0.4,24.07,0.4,20.82,1.4,20.82,1.4,24.07,0.4,24.07]];
const box6 = [[0.4,25.05,0.4,21.0,1.4,21.0,1.4,24.78],[0.4,25.05,1.08,25.05,1.25,24.95,1.4,24.78]];

// ---------- layout (pixel frames) ----------
const panels = [
 {id:"ngc2271", L:65,  R:571,  T:7,    B:524,  ymin:20,    ymax:25.8,  yt:yTicks1, red:red1, black:black1, small:small1, err:err1, errS:errSize1, box:box1, tri:null, ytitle:268},
 {id:"ngc2865", L:692, R:1198, T:8,    B:524,  ymin:20,    ymax:26.8,  yt:yTicks2, red:red2, black:black2, small:small2, err:err2, errS:errSize2, box:box2, tri:null, ytitle:278},
 {id:"ngc3962", L:65,  R:571,  T:611,  B:1128, ymin:19.5,  ymax:26.08, yt:yTicks3, red:red3, black:black3, small:small3, err:err3, errS:errSize3, box:box3, tri:tri3, ytitle:872},
 {id:"ngc4240", L:692, R:1198, T:611,  B:1128, ymin:19.5,  ymax:26.49, yt:yTicks4, red:red4, black:black4, small:small4, err:err4, errS:errSize4, box:box4, tri:null, ytitle:880},
 {id:"ic4889",  L:65,  R:571,  T:1214, B:1732, ymin:19.97, ymax:25.07, yt:yTicks5, red:red5, black:black5, small:small5, err:err5, errS:errSize5, box:box5, tri:null, ytitle:1502},
 {id:"whdf",    L:692, R:1198, T:1215, B:1732, ymin:19.95, ymax:26.1,  yt:yTicks6, red:[],   black:black6, small:small6, err:err6, errS:errSize6, box:box6, tri:null, ytitle:1488}
];

const NS = "http://www.w3.org/2000/svg";
const svg = document.getElementById("fig");
function mk(tag, attrs, parent){
  const e = document.createElementNS(NS, tag);
  for (const k in attrs) e.setAttribute(k, attrs[k]);
  (parent || svg).appendChild(e);
  return e;
}

panels.forEach((p, i) => {
  const xmin = -0.4, xmax = 2.4;
  const sx = v => p.L + (v - xmin) / (xmax - xmin) * (p.R - p.L);
  const sy = v => p.T + (v - p.ymin) / (p.ymax - p.ymin) * (p.B - p.T);

  const g = mk("g", {});
  
  

  const cp = mk("clipPath", {id:"clip" + i}, g);
  mk("rect", {x:p.L, y:p.T, width:p.R - p.L, height:p.B - p.T}, cp);

  const plot = mk("g", {"clip-path":"url(#clip" + i + ")"}, g);
  
  

  const gs = mk("g", {fill:"#000"}, plot);
  
  
  for (let k = 0; k < p.small.length; k += 2) {
    mk("circle", {cx:sx(p.small[k]).toFixed(1), cy:sy(p.small[k+1]).toFixed(1), r:1.2}, gs);
  }
  const gb = mk("g", {fill:"#000"}, plot);
  
  
  for (let k = 0; k < p.black.length; k += 2) {
    mk("circle", {cx:sx(p.black[k]).toFixed(1), cy:sy(p.black[k+1]).toFixed(1), r:3.3}, gb);
  }
  const ge = mk("g", {stroke:"#000", "stroke-width":1.4, fill:"none"}, plot);
  
  
  for (let k = 0; k < p.err.length; k++) {
    const cx = sx(-0.2), cy = sy(p.err[k]);
    const hw = Math.max(3, p.errS[k] / (xmax - xmin) * (p.R - p.L));
    mk("path", {d:`M${(cx-hw).toFixed(1)} ${cy.toFixed(1)}H${(cx+hw).toFixed(1)}M${cx.toFixed(1)} ${(cy-hw*0.95).toFixed(1)}V${(cy+hw*0.95).toFixed(1)}`}, ge);
  }
  const gx = mk("g", {stroke:"#000", "stroke-width":1.4, fill:"none", "stroke-dasharray":"9 6"}, plot);
  
  
  p.box.forEach(line => {
    let d = "";
    for (let k = 0; k < line.length; k += 2) d += (k ? "L" : "M") + sx(line[k]).toFixed(1) + " " + sy(line[k+1]).toFixed(1);
    mk("path", {d:d}, gx);
  });
  const gr = mk("g", {fill:"#f51b1b"}, plot);
  
  
  for (let k = 0; k < p.red.length; k += 2) {
    mk("circle", {cx:sx(p.red[k]).toFixed(1), cy:sy(p.red[k+1]).toFixed(1), r:4.8}, gr);
  }
  if (p.tri) {
    const gt = mk("g", {stroke:"#5fd98a", "stroke-width":1.3, fill:"none"}, plot);
    
    
    for (let k = 0; k < p.tri.length; k += 2) {
      const cx = sx(p.tri[k]), cy = sy(p.tri[k+1]);
      mk("path", {d:`M${cx.toFixed(1)} ${(cy-8).toFixed(1)}L${(cx+7.5).toFixed(1)} ${(cy+5).toFixed(1)}L${(cx-7.5).toFixed(1)} ${(cy+5).toFixed(1)}Z`}, gt);
    }
  }

  const fr = mk("rect", {x:p.L, y:p.T, width:p.R - p.L, height:p.B - p.T, fill:"none", stroke:"#000", "stroke-width":1.5}, g);
  
  

  let d = "";
  for (let v = -0.4; v <= 2.401; v += 0.1) {
    const vv = Math.round(v * 10) / 10;
    const major = Math.abs(vv * 2 - Math.round(vv * 2)) < 1e-6;
    const len = major ? 10 : 5;
    const x = sx(vv).toFixed(1);
    d += `M${x} ${p.B}v${-len}M${x} ${p.T}v${len}`;
  }
  for (let v = Math.ceil(p.ymin * 5) / 5; v <= p.ymax + 1e-6; v += 0.2) {
    const vv = Math.round(v * 5) / 5;
    const major = Math.abs(vv - Math.round(vv)) < 1e-6;
    const len = major ? 10 : 5;
    const y = sy(vv).toFixed(1);
    d += `M${p.L} ${y}h${len}M${p.R} ${y}h${-len}`;
  }
  const tk = mk("path", {d:d, stroke:"#000", "stroke-width":1.3, fill:"none"}, g);
  
  

  xTicks.forEach((v, k) => {
    const t = mk("text", {x:sx(v).toFixed(1), y:p.B + 38, "font-size":27, "text-anchor":"middle"}, g);
    t.textContent = xTickLabels[k];
    
    
  });
  p.yt.forEach(v => {
    const t = mk("text", {x:p.L - 9, y:(sy(v) + 10).toFixed(1), "font-size":27, "text-anchor":"end"}, g);
    t.textContent = String(v);
    
    
  });
  const xt = mk("text", {x:sx(1.0) - 54, y:p.B + 69, "font-size":32}, g);
  
  
  xt.textContent = "(g\u2032-i\u2032)";
  const xs = mk("tspan", {"font-size":19, dy:6}, xt);
  xs.textContent = "0";
  const yx = p.L - 65;
  const ytt = mk("text", {x:yx, y:p.ytitle, "font-size":35}, g);
  
  
  ytt.textContent = "i\u2032";
  const ys = mk("tspan", {"font-size":23, dy:10}, ytt);
  ys.textContent = "0";

  const a1 = mk("text", {x:p.L + 13, y:p.T + 34, "font-size":27}, g);
  a1.textContent = names[i];
  
  
  if (nGCs[i]) {
    const a2 = mk("text", {x:p.L + 13, y:p.T + 60, "font-size":27}, g);
    
    
    const t1 = mk("tspan", {}, a2); t1.textContent = "N";
    const t2 = mk("tspan", {"font-size":17, dy:5}, a2); t2.textContent = "GCs";
    const t3 = mk("tspan", {dy:-5}, a2); t3.textContent = "= " + nGCs[i];
  }
});
</script>
</body></html>
